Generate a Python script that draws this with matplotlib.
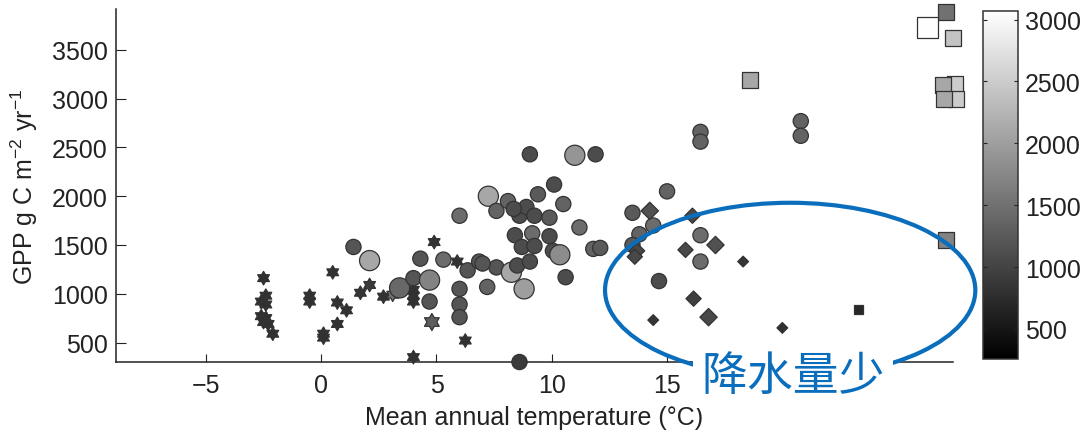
import numpy as np
import matplotlib
matplotlib.use("Agg")
import matplotlib.pyplot as plt
from matplotlib.path import Path
from matplotlib.patches import Ellipse

plt.rcParams['font.family'] = ['Liberation Sans', 'DejaVu Sans']
plt.rcParams['mathtext.default'] = 'regular'

# --- data ---
# stars (cold sites)
star_t = [-2.5, -2.4, -2.6, -2.4, -2.6, -2.4, -2.5, -2.3, -2.1, -0.5, -0.5, 0.1, 0.1,
          0.5, 0.7, 1.1, 0.7, 1.7, 2.1, 2.7, 3.1, 4.0, 4.0, 4.0, 4.9, 5.9, 4.8, 6.25, 4.0]
star_gpp = [1160, 980, 920, 890, 770, 750, 710, 690, 590, 980, 920, 590, 550,
            1220, 910, 830, 690, 1010, 1090, 970, 990, 1040, 980, 920, 1530, 1330, 710, 520, 350]
star_pr = [800, 800, 800, 800, 800, 800, 800, 800, 800, 800, 800, 800, 800,
           800, 800, 800, 800, 850, 900, 800, 1500, 800, 800, 800, 800, 800, 1300, 800, 800]
star_big = [0] * 26 + [1, 0, 0]

# circles
circ_t = [1.4, 2.1, 3.4, 4.0, 4.3, 6.0, 5.3, 4.7, 4.7, 6.0, 6.0, 6.0, 6.35, 6.85, 7.2,
          7.6, 8.25, 8.8, 7.25, 7.6, 8.1, 8.4, 8.6, 8.9, 8.35, 9.25, 9.9, 9.05, 11.0,
          11.9, 10.1, 9.4, 10.5, 11.2, 9.15, 9.9, 8.7, 9.25, 10.05, 10.35, 11.8, 7.0,
          8.5, 9.05, 10.6, 8.6, 12.1, 15.0, 13.5, 14.4, 13.8, 13.5, 16.45, 16.45,
          20.8, 20.8, 16.45, 16.45, 14.65]
circ_gpp = [1480, 1340, 1060, 1160, 1360, 1800, 1350, 1140, 920, 1050, 890, 760, 1240,
            1330, 1070, 1270, 1220, 1050, 2000, 1850, 1950, 1600, 1800, 1890, 1870, 1800,
            1780, 2430, 2420, 2430, 2120, 2020, 1920, 1680, 1620, 1590, 1480, 1490, 1440,
            1400, 1460, 1310, 1290, 1330, 1170, 300, 1470, 2050, 1830, 1700, 1610, 1500,
            2660, 2560, 2770, 2620, 1600, 1330, 1130]
circ_pr = [1200, 2100, 1400, 1200, 1200, 1450, 1450, 1700, 1200, 1200, 1200, 1200, 1200,
           1200, 1350, 1200, 2100, 2000, 2100, 1350, 1350, 1100, 1100, 1100, 1100, 1100,
           1250, 1100, 1900, 1100, 1100, 1250, 1350, 1450, 1450, 1100, 1100, 1100, 1100,
           1800, 1350, 1200, 1100, 1100, 1100, 900, 1250, 1350, 1250, 1450, 1350, 1250,
           1350, 1350, 1350, 1350, 1450, 1450, 1100]
circ_big = [0, 1, 1, 0, 0, 0, 0, 1, 0, 0, 0, 0, 0, 0, 0, 0, 1, 1, 1, 0, 0, 0, 0, 0, 0, 0,
            0, 0, 1, 0, 0, 0, 0, 0, 0, 0, 0, 0, 0, 1, 0, 0, 0, 0, 0, 0, 0, 0, 0, 0, 0, 0,
            0, 0, 0, 0, 0, 0, 0]

# diamonds
dia_t = [14.25, 16.1, 13.7, 13.6, 15.8, 17.1, 18.3, 16.15, 16.8, 14.4, 20.0]
dia_gpp = [1850, 1800, 1440, 1380, 1450, 1500, 1330, 950, 760, 730, 650]
dia_pr = [1150, 1050, 1050, 1050, 1050, 1150, 850, 950, 1050, 850, 800]
dia_cls = [2, 1, 1, 1, 1, 2, 0, 1, 2, 0, 0]

# squares (tropical)
sq_t = [27.5, 27.55, 27.1, 26.3, 27.4, 26.95, 27.0, 27.1, 18.6, 23.3]
sq_gpp = [3150, 3000, 3890, 3730, 3620, 3140, 3000, 1550, 3190, 840]
sq_pr = [2500, 2500, 1500, 3050, 2400, 2100, 2100, 1700, 2100, 700]
sq_cls = [1, 1, 1, 2, 1, 1, 1, 1, 1, 0]

vmin, vmax = 257, 3070
ec = '#333333'

fig = plt.figure(figsize=(10.86, 4.39), dpi=100)
ax = fig.add_axes([0.1068, 0.1731, 0.7707, 0.8041])

star6 = Path.unit_regular_star(6, 0.58)
kw = dict(cmap='gray', vmin=vmin, vmax=vmax, edgecolors=ec, linewidths=0.9, clip_on=False)

ax.scatter(star_t, star_gpp, c=star_pr, marker=star6,
           s=np.where(np.array(star_big) == 1, 150, 95), zorder=3, **kw)
ax.scatter(circ_t, circ_gpp, c=circ_pr, marker='o',
           s=np.where(np.array(circ_big) == 1, 210, 120), zorder=3, **kw)
ax.scatter(dia_t, dia_gpp, c=dia_pr, marker='D',
           s=np.array([30, 60, 78])[dia_cls], zorder=3, **kw)
ax.scatter(sq_t, sq_gpp, c=sq_pr, marker='s',
           s=np.array([45, 135, 230])[sq_cls], zorder=3, **kw)

ax.set_xlim(-8.9, 27.4)
ax.set_ylim(300, 3920)
ax.set_xticks([-5, 0, 5, 10, 15])
ax.set_xticklabels(['\u22125', '0', '5', '10', '15'])
ax.set_yticks([500, 1000, 1500, 2000, 2500, 3000, 3500])

for s in ['top', 'right']:
    ax.spines[s].set_visible(False)
for s in ['left', 'bottom']:
    ax.spines[s].set_color('#222222')
    ax.spines[s].set_linewidth(1.1)
ax.tick_params(axis='both', direction='in', labelsize=18, colors='#222222')
ax.tick_params(axis='y', length=7, pad=6)
ax.tick_params(axis='x', length=6, pad=8)

ax.set_xlabel('Mean annual temperature (°C)', fontsize=18, color='#222222')
ax.set_ylabel('GPP g C m$^{-2}$ yr$^{-1}$', fontsize=18, color='#222222')
ax.xaxis.set_label_coords(0.5, -0.122)
ax.yaxis.set_label_coords(-0.091, 0.5)

# blue annotation
blue = '#0a6ebd'
ell = Ellipse((20.34, 1037), 16.06, 1792, fill=False, edgecolor=blue,
              linewidth=3.0, clip_on=False, zorder=5)
ax.add_patch(ell)
ax.text(20.47, 157, '降水量少', fontsize=33, color=blue,
        family=['Noto Sans CJK SC', 'DejaVu Sans'], ha='center', va='center',
        zorder=6, bbox=dict(facecolor='white', edgecolor='none', pad=6))

# colorbar
cax = fig.add_axes([0.9052, 0.1800, 0.0322, 0.7927])
sm = plt.cm.ScalarMappable(cmap='gray', norm=plt.Normalize(vmin, vmax))
cb = fig.colorbar(sm, cax=cax)
cb.set_ticks([500, 1000, 1500, 2000, 2500, 3000])
cb.outline.set_edgecolor('#333333')
cb.outline.set_linewidth(1.1)
cax.tick_params(direction='in', length=3, labelsize=18, colors='#222222',
                left=True, right=True, pad=5)

fig.savefig('out.png', dpi=100)
